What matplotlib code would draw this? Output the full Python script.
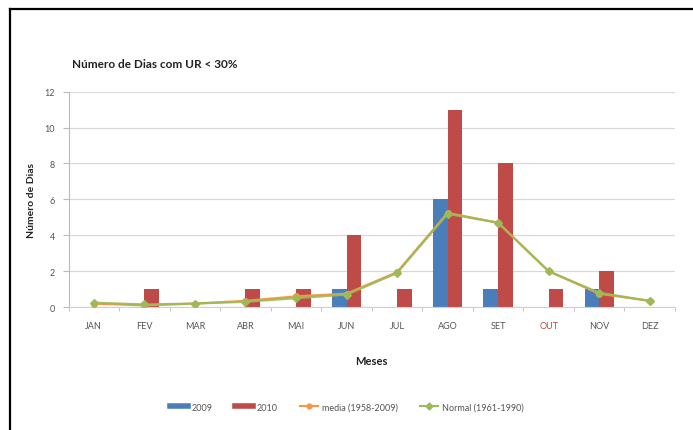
import numpy as np
import matplotlib
matplotlib.use("Agg")
import matplotlib.pyplot as plt
from matplotlib.lines import Line2D

plt.rcParams['font.family'] = ['Lato', 'DejaVu Sans']

# data
months = ['JAN', 'FEV', 'MAR', 'ABR', 'MAI', 'JUN', 'JUL', 'AGO', 'SET', 'OUT', 'NOV', 'DEZ']
dias_2009 = [0, 0, 0, 0, 0, 1, 0, 6, 1, 0, 1, 0]
dias_2010 = [0, 1, 0, 1, 1, 4, 1, 11, 8, 1, 2, 0]
media_1958_2009 = [0.2, 0.1, 0.2, 0.35, 0.6, 0.75, 1.95, 5.25, 4.7, 2.0, 0.75, 0.35]
normal_1961_1990 = [0.25, 0.15, 0.2, 0.3, 0.5, 0.7, 1.9, 5.2, 4.7, 2.0, 0.8, 0.35]
yticks = [0, 2, 4, 6, 8, 10, 12]

c2009 = '#4a7ebb'
c2010 = '#be4b48'
cmedia = '#f79646'
cnormal = '#9bbb59'

fig = plt.figure(figsize=(6.93, 4.31), dpi=100)
ax = fig.add_axes([0.099, 0.285, 0.875, 0.50])

x = np.arange(len(months))
w = 0.29
ax.bar(x - w / 2, dias_2009, w, color=c2009, zorder=2)
ax.bar(x + w / 2, dias_2010, w, color=c2010, zorder=2)
ax.plot(x, media_1958_2009, color=cmedia, lw=1.6, marker='o', ms=4, zorder=3)
ax.plot(x, normal_1961_1990, color=cnormal, lw=1.6, marker='D', ms=4.5, zorder=4, alpha=0.9)

ax.set_xlim(-0.5, len(months) - 0.5)
ax.set_ylim(0, 12)
ax.set_yticks(yticks)
ax.set_xticks(x)
ax.set_xticklabels(months)
ax.set_xticks(np.arange(-0.5, len(months)), minor=True)
ax.tick_params(axis='x', which='major', length=0, pad=10, labelsize=6.5, labelcolor='#555555')
ax.tick_params(axis='x', which='minor', length=3, color='#bbbbbb')
ax.tick_params(axis='y', length=4, color='#bbbbbb', labelsize=6.5, labelcolor='#555555', pad=6)
for lbl in ax.get_xticklabels():
    if lbl.get_text() == 'OUT':
        lbl.set_color('#b05050')

ax.grid(axis='y', color='#d9d9d9', lw=0.9, zorder=0)
ax.set_axisbelow(True)
for side in ['top', 'right']:
    ax.spines[side].set_visible(False)
ax.spines['left'].set_color('#bbbbbb')
ax.spines['bottom'].set_color('#d0d0d0')

ax.set_xlabel('Meses', fontsize=8, fontweight='bold', labelpad=18, color='#222222')
ax.set_ylabel('Número de Dias', fontsize=7.5, fontweight='bold', labelpad=6, color='#222222')
fig.text(0.104, 0.842, 'Número de Dias com UR < 30%', fontsize=8.5, fontweight='bold', color='#222222')

handles = [
    Line2D([], [], color=c2009, lw=4),
    Line2D([], [], color=c2010, lw=4),
    Line2D([], [], color=cmedia, lw=1.5, marker='o', ms=3.5),
    Line2D([], [], color=cnormal, lw=1.5, marker='D', ms=3.5),
]
labels = ['2009', '2010', 'media (1958-2009)', 'Normal (1961-1990)']
fig.legend(handles, labels, loc='center', bbox_to_anchor=(0.5, 0.053), ncol=4, frameon=False,
           fontsize=6.5, handlelength=2.0, columnspacing=2.5, handletextpad=0.4, labelcolor='#555555')

# outer frame: left and top only
fig.add_artist(Line2D([0.015, 0.015], [0, 0.977], color='black', lw=1.6, transform=fig.transFigure))
fig.add_artist(Line2D([0.015, 1.0], [0.977, 0.977], color='black', lw=1.6, transform=fig.transFigure))

fig.savefig('out.png', dpi=100)
